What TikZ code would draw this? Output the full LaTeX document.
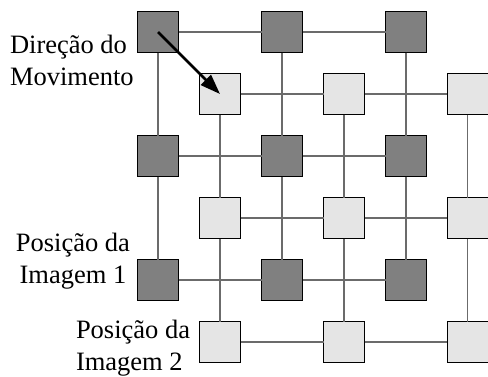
\documentclass[tikz,border=0pt]{standalone}
\usepackage{fontspec}
\setmainfont{Liberation Serif}
\usetikzlibrary{arrows.meta}
\definecolor{cellDark}{gray}{0.5}
\definecolor{cellLight}{gray}{0.9}
\definecolor{wireGray}{gray}{0.42}
\begin{document}
\begin{tikzpicture}[x=1pt,y=-1pt,
  cell/.style={draw=black, line width=1pt, minimum size=41pt, inner sep=0pt, outer sep=0pt},
  darkcell/.style={cell, fill=cellDark},
  lightcell/.style={cell, fill=cellLight},
  wire/.style={draw=wireGray, line width=1.3pt},
  lbl/.style={font=\fontsize{26.5}{32}\selectfont, inner sep=0pt, outer sep=0pt}]
\useasboundingbox (0,0) rectangle (488,376);

% dark lattice (image 1)
\foreach \i/\x in {1/158,2/282,3/406}
  \foreach \j/\y in {1/32,2/156,3/280}
    \node[darkcell] (d\i\j) at (\x,\y) {};

% light lattice (image 2)
\foreach \i/\x in {1/220,2/344,3/467.5}
  \foreach \j/\y in {1/94,2/218,3/342}
    \node[lightcell] (l\i\j) at (\x,\y) {};

% wires of both lattices: rows and columns
\foreach \g in {d,l} {
  \foreach \k in {1,2,3} {
    \draw[wire] (\g1\k) -- (\g2\k);
    \draw[wire] (\g2\k) -- (\g3\k);
    \draw[wire] (\g\k1) -- (\g\k2);
    \draw[wire] (\g\k2) -- (\g\k3);
  }
}

% direction of motion
\draw[line width=2.6pt, -{Triangle[length=20pt,width=14pt]}]
  (d11.center) -- (l11.center);

% labels (base anchor sits on the last line)
\node[lbl, anchor=base west, align=left] (tdir) at (10,85) {Direção do\\Movimento};
\node[lbl, anchor=base east, align=center] (tim1) at (130,283) {Posição da\\Imagem 1};
\node[lbl, anchor=base west, align=left] (tim2) at (76,370) {Posição da\\Imagem 2};
\end{tikzpicture}
\end{document}
